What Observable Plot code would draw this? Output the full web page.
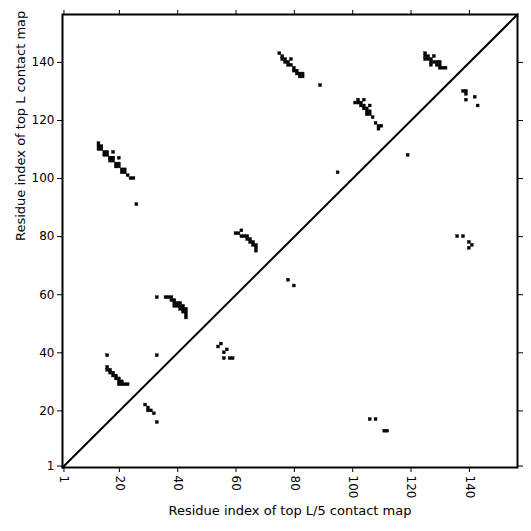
<!DOCTYPE html>
<html>
<head>
<meta charset="utf-8">
<script src="https://cdn.jsdelivr.net/npm/d3@7"></script>
<script src="https://cdn.jsdelivr.net/npm/@observablehq/plot@0.6"></script>
<style>
  html, body { margin: 0; padding: 0; background: white; }
</style>
</head>
<body>
<div id="chart"></div>
<script>
const seqLength = 156;
const tickValues = [1, 20, 40, 60, 80, 100, 120, 140];
const xLabel = "Residue index of top L/5 contact map";
const yLabel = "Residue index of top L contact map";

// contact residue pairs (x = residue i, y = residue j)
const contactX = [
  // upper-left chain
  13,13,14,13,14,15,16,15,16,17,18,18,17,18,17,18,20,19,20,19,20,21,22,21,22,23,24,25,26,
  // chain near 16-23 / 29-35
  16,16,17,17,18,18,19,19,20,20,21,20,21,22,23,16,33,
  // cluster 29-33 / 16-22
  29,30,30,31,32,33,
  // 33,59 and chain 36-43 / 52-59
  33,36,37,38,38,39,39,40,41,39,40,41,42,41,42,43,42,43,43,43,
  // cluster 54-59 / 38-43
  55,54,57,56,56,58,59,
  // chain 60-67 / 75-82
  60,61,62,62,63,64,64,65,65,66,66,67,67,67,78,80,
  // chain 75-83 / 135-143
  75,76,76,77,77,78,78,79,79,80,80,81,81,82,83,82,83,89,
  95,
  // cluster 101-110 / 117-127
  101,102,102,104,103,103,104,106,104,105,105,106,105,106,107,108,109,109,110,
  119,
  // cluster 125-132 / 138-143
  125,125,126,125,126,128,127,127,127,128,129,130,129,130,130,131,132,
  // cluster 138-143 / 125-130
  138,139,139,139,142,143,
  // cluster 136-141 / 76-80
  136,138,140,141,140,
  // cluster 106-112 / 13-17
  106,108,111,112
];
const contactY = [
  112,111,111,110,110,109,109,108,108,107,107,106,106,109,107,107,107,105,105,104,104,103,103,102,102,101,100,100,91,
  35,34,34,33,33,32,32,31,31,30,30,29,29,29,29,39,39,
  22,21,20,20,19,16,
  59,59,59,59,58,58,57,57,57,56,56,56,56,55,55,55,54,54,53,52,
  43,42,41,40,38,38,38,
  81,81,82,80,80,80,79,79,78,78,77,77,76,75,65,63,
  143,142,141,141,140,140,139,141,139,138,137,137,136,136,136,135,135,132,
  102,
  126,126,127,127,126,125,125,125,124,124,123,123,122,122,121,119,118,117,118,
  108,
  143,142,142,141,141,142,141,140,139,140,140,140,139,139,138,138,138,
  130,130,129,127,128,125,
  80,80,78,77,76,
  17,17,13,13
];

const idx = d3.range(contactX.length);
const lo = 0.5, hi = seqLength + 0.5;

const chart = Plot.plot({
  width: 531,
  height: 531,
  marginLeft: 62,
  marginRight: 14,
  marginTop: 14,
  marginBottom: 64,
  x: { domain: [lo, hi] },
  y: { domain: [lo, hi] },
  style: { fontFamily: "DejaVu Sans", fontSize: "12px", color: "black", background: "white" },
  marks: [
    Plot.rect(idx, {
      x1: i => contactX[i] - 0.5, x2: i => contactX[i] + 0.5,
      y1: i => contactY[i] - 0.5, y2: i => contactY[i] + 0.5,
      fill: "black", stroke: "black", strokeWidth: 0.4
    }),
    Plot.line([lo, hi], { x: d => d, y: d => d, stroke: "black", strokeWidth: 2 }),
    Plot.frame({ stroke: "black", strokeWidth: 2 }),
    Plot.axisX({ anchor: "bottom", ticks: tickValues, tickSize: 5, tickPadding: 3, tickRotate: 90, label: null, fontSize: 12 }),
    Plot.axisX({ anchor: "top", ticks: tickValues, tickSize: 5, tickFormat: () => "", label: null }),
    Plot.axisY({ anchor: "left", ticks: tickValues, tickSize: 5, tickPadding: 3, label: null, fontSize: 12 }),
    Plot.axisY({ anchor: "right", ticks: tickValues, tickSize: 5, tickFormat: () => "", label: null }),
    Plot.text([xLabel], { text: d => d, frameAnchor: "bottom", dy: 43, fontSize: 13, lineAnchor: "middle" }),
    Plot.text([yLabel], { text: d => d, frameAnchor: "left", dx: -42, rotate: -90, fontSize: 13, lineAnchor: "middle" })
  ]
});
document.getElementById("chart").appendChild(chart);
</script>
</body>
</html>
